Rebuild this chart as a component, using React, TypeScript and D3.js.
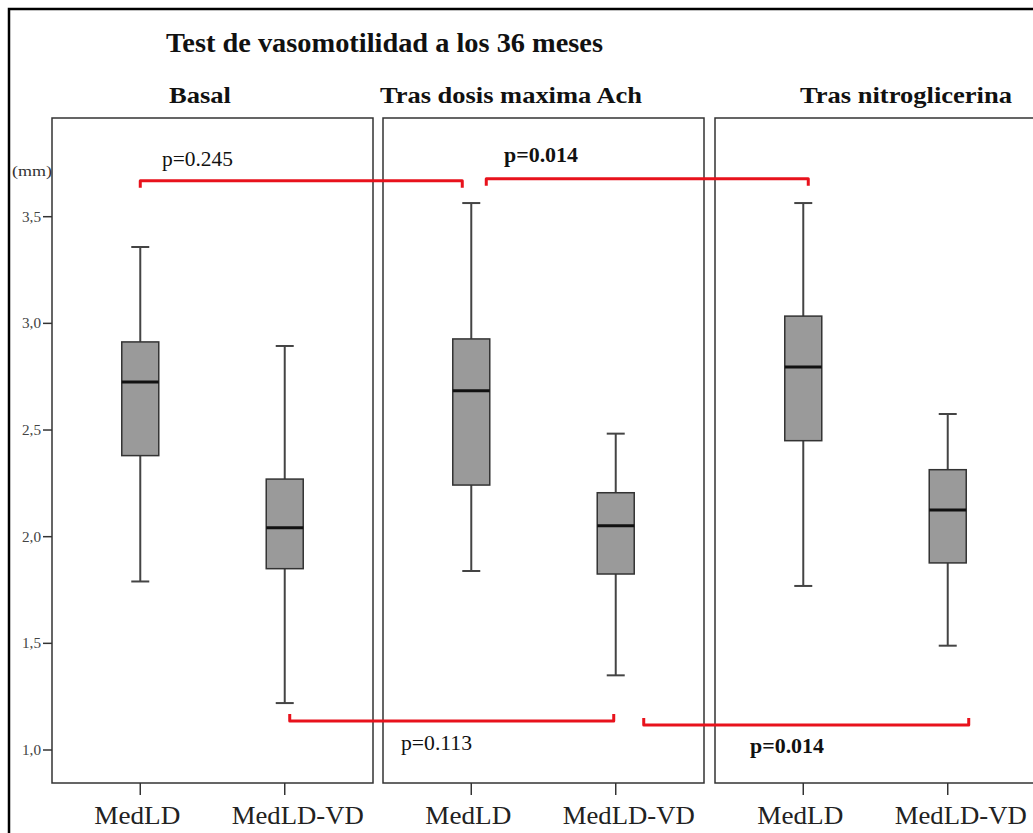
import React from "react";
import * as d3 from "d3";

// ---- data ----
const panels = ["Basal", "Tras dosis maxima Ach", "Tras nitroglicerina"];
const categories = ["MedLD", "MedLD-VD"];
// [lowWhisker, Q1, median, Q3, highWhisker] per panel per category
const basalStats = [
  [1.79, 2.38, 2.725, 2.913, 3.358],
  [1.22, 1.85, 2.042, 2.27, 2.894],
];
const achStats = [
  [1.839, 2.242, 2.684, 2.927, 3.564],
  [1.35, 1.825, 2.051, 2.206, 2.483],
];
const ntgStats = [
  [1.769, 2.45, 2.795, 3.034, 3.564],
  [1.489, 1.877, 2.125, 2.314, 2.575],
];
const yTicks = [1.0, 1.5, 2.0, 2.5, 3.0, 3.5];
const pTop = ["p=0.245", "p=0.014"];
const pBottom = ["p=0.113", "p=0.014"];
const pTopBold = [false, true];
const pBottomBold = [false, true];

// ---- layout ----
const W = 1033;
const H = 833;
const panelLeft = [52, 383, 715];
const panelWidth = 321;
const panelTop = 118;
const panelBottom = 783;
const boxW = 37;
const RED = "#e8121c";
const SERIF = "'Liberation Serif', 'Times New Roman', Times, serif";

const y = d3.scaleLinear().domain([1, 3.5]).range([750, 216.7]);
const fmt = (v: number) => d3.format(".1f")(v).replace(".", ",");

const xScales = panelLeft.map((l) =>
  d3.scalePoint<string>().domain(categories).range([l, l + panelWidth]).padding(0.611)
);
const allStats = [basalStats, achStats, ntgStats];

// bracket anchors: [panel, category, pixel nudge]
const topBrackets = [
  { from: [0, 0, 0], to: [1, 0, -9], yv: 3.669, text: pTop[0], bold: pTopBold[0], tx: 162, tyv: 3.74 },
  { from: [1, 0, 15], to: [2, 0, 5], yv: 3.678, text: pTop[1], bold: pTopBold[1], tx: 504, tyv: 3.755 },
];
const bottomBrackets = [
  { from: [0, 1, 5], to: [1, 1, -2], yv: 1.136, text: pBottom[0], bold: pBottomBold[0], tx: 401, tyv: 1.0 },
  { from: [1, 1, 28], to: [2, 1, 21], yv: 1.117, text: pBottom[1], bold: pBottomBold[1], tx: 750, tyv: 0.985 },
];

function bx(a: number[]) {
  return (xScales[a[0]](categories[a[1]]) as number) + a[2];
}

export default function App() {
  return (
    <svg
      width={W}
      height={H}
      style={{ position: "absolute", left: 0, top: 0, display: "block", background: "#fff" }}
      fontFamily={SERIF}
    >
      <rect x={0} y={0} width={W} height={H} fill="#fff" />
      <rect x={9} y={9} width={1100} height={900} fill="none" stroke="#000" strokeWidth={2.5} />

      <text x={166} y={52} fontSize={27} fontWeight="bold" textLength={437} lengthAdjust="spacingAndGlyphs" fill="#111">
        Test de vasomotilidad a los 36 meses
      </text>

      {panels.map((p, i) => {
        const tx = [169, 380, 800][i];
        const tl = [62, 262, 212][i];
        return (
          <text key={p} x={tx} y={103} fontSize={24} fontWeight="bold" textLength={tl} lengthAdjust="spacingAndGlyphs" fill="#111">
            {p}
          </text>
        );
      })}

      {/* y axis */}
      <text x={12} y={176} fontSize={14} fill="#333" textLength={40} lengthAdjust="spacingAndGlyphs">(mm)</text>
      {yTicks.map((t) => (
        <g key={t}>
          <line x1={43} x2={panelLeft[0]} y1={y(t)} y2={y(t)} stroke="#333" strokeWidth={1.5} />
          <text
            x={41}
            y={y(t) + 5}
            fontSize={14}
            textAnchor="end"
            fill="#444"
            textLength={19}
            lengthAdjust="spacingAndGlyphs"
          >
            {fmt(t)}
          </text>
        </g>
      ))}

      {panels.map((p, i) => {
        const xs = xScales[i];
        return (
          <g key={"panel" + i}>
            <rect
              x={panelLeft[i]}
              y={panelTop}
              width={panelWidth}
              height={panelBottom - panelTop}
              fill="none"
              stroke="#333"
              strokeWidth={1.5}
            />
            {categories.map((c, j) => {
              const cx = xs(c) as number;
              const [lo, q1, med, q3, hi] = allStats[i][j];
              return (
                <g key={c}>
                  <line x1={cx} x2={cx} y1={y(hi)} y2={y(q3)} stroke="#444" strokeWidth={2} />
                  <line x1={cx} x2={cx} y1={y(q1)} y2={y(lo)} stroke="#444" strokeWidth={2} />
                  <line x1={cx - 9} x2={cx + 9} y1={y(hi)} y2={y(hi)} stroke="#444" strokeWidth={2} />
                  <line x1={cx - 9} x2={cx + 9} y1={y(lo)} y2={y(lo)} stroke="#444" strokeWidth={2} />
                  <rect
                    x={cx - boxW / 2}
                    y={y(q3)}
                    width={boxW}
                    height={y(q1) - y(q3)}
                    fill="#9a9a9a"
                    stroke="#333"
                    strokeWidth={1.5}
                  />
                  <line x1={cx - boxW / 2} x2={cx + boxW / 2} y1={y(med)} y2={y(med)} stroke="#111" strokeWidth={3} />
                  <line x1={cx} x2={cx} y1={panelBottom} y2={panelBottom + 12} stroke="#333" strokeWidth={1.5} />
                  <text
                    x={cx + (j === 0 ? -3 : 13)}
                    y={824}
                    fontSize={26}
                    textAnchor="middle"
                    fill="#222"
                    textLength={j === 0 ? 86 : 132}
                    lengthAdjust="spacingAndGlyphs"
                  >
                    {c}
                  </text>
                </g>
              );
            })}
          </g>
        );
      })}

      {/* brackets */}
      {topBrackets.map((b, k) => {
        const x1 = bx(b.from);
        const x2 = bx(b.to);
        const yy = y(b.yv);
        return (
          <g key={"tb" + k}>
            <path
              d={`M${x1},${yy + 7} L${x1},${yy} L${x2},${yy} L${x2},${yy + 7}`}
              fill="none"
              stroke={RED}
              strokeWidth={3}
              strokeLinejoin="round"
            />
            <text
              x={b.tx}
              y={y(b.tyv)}
              fontSize={21}
              fontWeight={b.bold ? "bold" : "normal"}
              fill="#111"
              textLength={b.bold ? 74 : 71}
              lengthAdjust="spacingAndGlyphs"
            >
              {b.text}
            </text>
          </g>
        );
      })}
      {bottomBrackets.map((b, k) => {
        const x1 = bx(b.from);
        const x2 = bx(b.to);
        const yy = y(b.yv);
        return (
          <g key={"bb" + k}>
            <path
              d={`M${x1},${yy - 7} L${x1},${yy} L${x2},${yy} L${x2},${yy - 7}`}
              fill="none"
              stroke={RED}
              strokeWidth={3}
              strokeLinejoin="round"
            />
            <text
              x={b.tx}
              y={y(b.tyv)}
              fontSize={21}
              fontWeight={b.bold ? "bold" : "normal"}
              fill="#111"
              textLength={b.bold ? 74 : 71}
              lengthAdjust="spacingAndGlyphs"
            >
              {b.text}
            </text>
          </g>
        );
      })}
    </svg>
  );
}
